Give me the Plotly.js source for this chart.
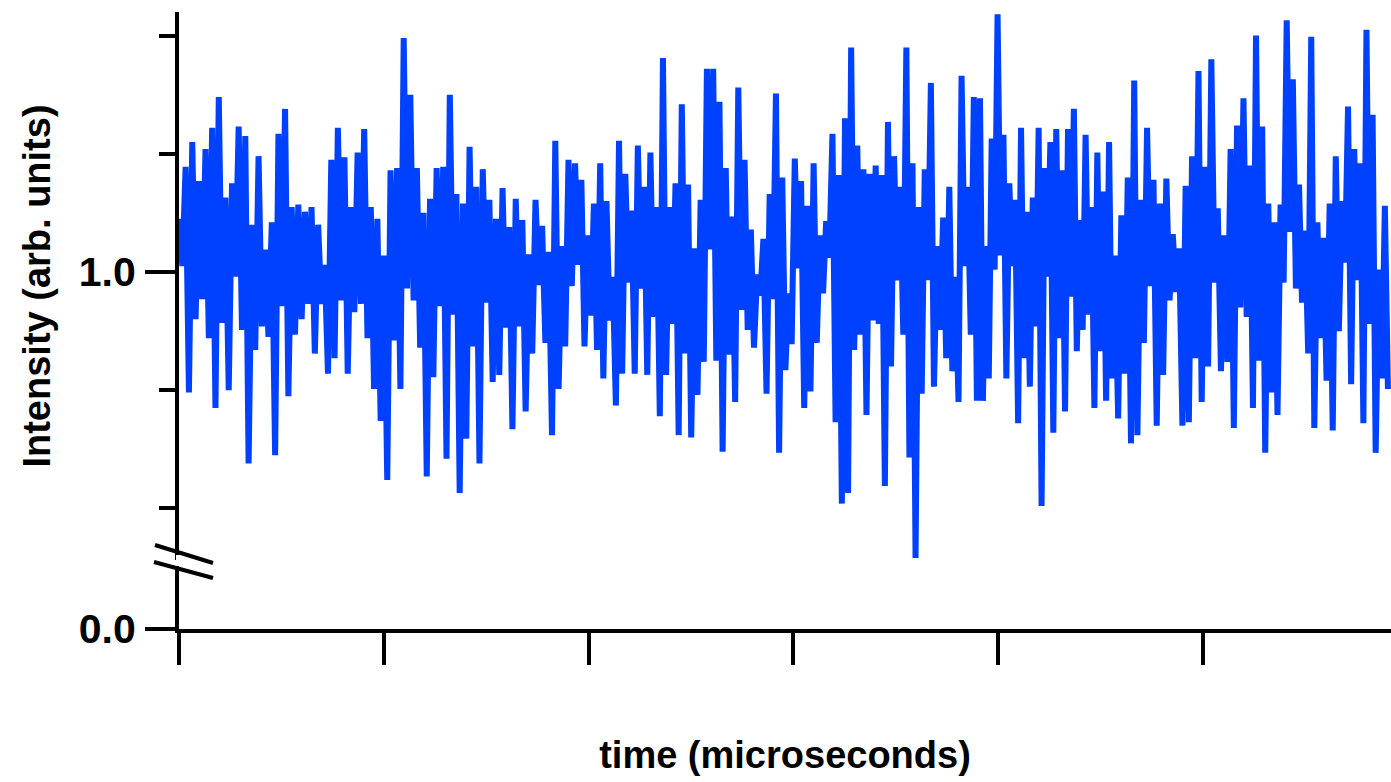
<!DOCTYPE html>
<html><head><meta charset="utf-8">
<script src="https://cdn.plot.ly/plotly-3.0.1.min.js"></script>
<style>html,body{margin:0;padding:0;background:#fff}#chart{width:1391px;height:782px}</style>
</head><body><div id="chart"></div>
<script>
// segment boundaries on the time axis (same units as the unlabeled x ticks)
const segmentBounds = [0, 0.615, 1.274, 1.934, 2.593, 3.252, 3.911, 4.570, 5.229, 5.918];

// intensity samples (arb. units)
const seg1 = [1.045,1.005,1.089,0.898,1.110,0.960,1.077,0.977,1.104,0.944,1.122,0.885,1.148,0.957,1.063,0.900,1.075,0.996,1.123,0.951,1.115,0.838,1.040,0.934,1.098,0.954,1.019,0.945,1.042,0.845,1.117,0.971,1.138,0.895,1.055,0.947,1.057,0.960];
const seg2 = [1.051,0.973,1.055,0.931,1.040,0.973,1.006,0.914,1.095,0.927,1.122,0.976,1.097,0.914,1.055,0.966,1.101,0.973,1.121,0.944,1.055,0.901,1.045,0.874,1.014,0.824,1.086,0.942,1.088,0.901,1.198,0.986,1.150,0.976,1.088,0.936,1.050,0.827,1.062,0.911,1.088];
const seg3 = [0.971,1.089,0.842,1.150,0.964,1.066,0.813,1.058,0.859,1.106,0.937,1.072,0.838,1.087,0.974,1.061,0.907,1.045,0.913,1.071,0.953,1.038,0.867,1.062,0.954,1.044,0.882,1.015,0.931,1.061,0.989,1.039,0.940,1.017,0.862,1.111,0.901,1.022,0.937,1.095,0.988];
const seg4 = [1.092,1.006,1.078,0.937,1.031,0.963,1.058,0.934,1.092,0.910,1.060,0.959,0.996,0.887,1.111,0.914,1.083,0.991,1.052,0.914,1.107,0.986,1.072,0.913,1.101,0.962,1.055,0.878,1.181,0.913,1.055,0.956,1.075,0.862,1.142,0.931,1.074,0.860,1.020,0.896,1.061,0.924,1.172];
const seg5 = [1.019,1.172,0.925,1.144,0.848,1.088,0.930,1.047,0.890,1.156,0.968,1.095,0.951,1.036,0.936,0.998,0.980,1.028,0.897,1.066,0.977,1.151,0.847,1.080,0.917,0.982,0.939,1.096,1.003,1.077,0.885,1.056,0.899,1.092,0.940,1.031,0.982,1.043,1.012,1.117,0.873,1.082,0.804];
const seg6 = [1.130,0.813,1.190,0.934,1.107,0.947,1.087,0.879,1.083,0.959,1.090,0.956,1.082,0.819,1.127,0.920,1.098,0.993,1.072,0.947,1.190,0.843,1.092,0.758,1.055,0.897,1.087,0.993,1.160,0.903,1.022,0.951,1.046,0.927,1.072,0.916,0.996,0.890,1.166,1.005,1.072,0.947,1.148,0.891];
const seg7 = [1.147,0.891,1.022,0.910,1.113,1.002,1.218,1.014,1.116,0.910,1.075,1.005,1.061,0.872,1.122,0.927,1.051,0.903,1.063,0.954,1.122,0.802,1.088,0.996,1.110,0.864,1.121,0.944,1.086,0.882,1.121,0.979,1.138,0.933,1.044,0.951,1.116,0.964,1.055,0.885,1.101,0.933,1.068,0.891,1.110,0.910];
const seg8 = [1.014,0.876,1.048,0.914,1.080,0.855,1.162,0.862,1.061,0.940,1.122,0.988,1.078,0.870,1.058,0.913,1.079,0.976,1.032,0.983,1.020,0.870,1.073,0.873,1.098,0.927,1.170,0.890,1.089,0.920,1.180,0.991,1.054,0.916,1.031,0.924,1.104,0.868,1.124,0.970,1.147,0.962];
const seg9 = [1.090,0.885,1.200,0.925,1.123,0.847,1.058,0.898,1.042,0.879,1.057,0.991,1.213,1.034,1.163,0.986,1.074,0.974,1.035,0.931,1.199,0.868,1.042,0.944,1.029,0.908,1.058,0.866,1.098,0.950,1.060,1.008,1.140,0.905,1.104,0.993,1.092,0.872,1.205,0.956,1.133,0.847,1.002,0.910,1.056,0.901];
const segments = [seg1, seg2, seg3, seg4, seg5, seg6, seg7, seg8, seg9];

const yMajorTicks = [1.0];
const yMajorLabels = ['1.0'];
const yMinorTicks = [0.8, 0.9, 1.1, 1.2];
const yLowTicks = [0.0];
const yLowLabels = ['0.0'];

const xTitle = 'time (microseconds)';
const yTitle = 'Intensity (arb. units)';

const time = [], intensity = [];
segments.forEach((seg, k) => {
  const a = segmentBounds[k], b = segmentBounds[k + 1];
  seg.forEach((v, j) => { time.push(a + j * (b - a) / seg.length); intensity.push(v); });
});

const font = {family: 'Liberation Sans, Arial, sans-serif', color: '#000', weight: 'bold'};
const L = 179, T = 12, W = 1212, H = 617;
const px = x => (x - L) / W, py = y => (782 - 153 - y) / H;

const data = [
  {x: time, y: intensity, type: 'scatter', mode: 'lines',
   line: {color: '#0040ff', width: 6}, xaxis: 'x', yaxis: 'y', hoverinfo: 'skip'},
  // carrier so the lower (broken-off) y axis with the 0.0 tick is drawn
  {x: [0], y: [0], type: 'scatter', mode: 'lines', line: {width: 0},
   xaxis: 'x', yaxis: 'y2', hoverinfo: 'skip'}
];

const layout = {
  width: 1391, height: 782,
  margin: {l: L, r: 0, t: T, b: 153},
  paper_bgcolor: '#fff', plot_bgcolor: '#fff',
  showlegend: false,
  xaxis: {
    range: [0, 5.918], anchor: 'y2', dtick: 1, tick0: 0, tickmode: 'linear',
    showticklabels: false, ticks: 'outside', ticklen: 32, tickwidth: 4, tickcolor: '#000',
    showline: true, linewidth: 4, linecolor: '#000', showgrid: false, zeroline: false,
    layer: 'below traces',
    title: {text: xTitle, font: Object.assign({size: 38}, font), standoff: 78}
  },
  yaxis: {
    domain: [0.1118, 1], range: [0.7563, 1.22], anchor: 'x',
    tickmode: 'array', tickvals: yMajorTicks, ticktext: yMajorLabels,
    ticks: 'outside', ticklen: 30, tickwidth: 4, tickcolor: '#000',
    tickfont: Object.assign({size: 41}, font), ticklabelstandoff: 1,
    minor: {tickmode: 'array', tickvals: yMinorTicks, ticks: 'outside', ticklen: 16, tickwidth: 4, tickcolor: '#000', showgrid: false},
    showline: true, linewidth: 4, linecolor: '#000', showgrid: false, zeroline: false,
    layer: 'below traces',
    title: {text: yTitle, font: Object.assign({size: 38}, font), standoff: 17}
  },
  yaxis2: {
    domain: [0, 0.1021], range: [0, 0.1], anchor: 'x',
    tickmode: 'array', tickvals: yLowTicks, ticktext: yLowLabels,
    ticks: 'outside', ticklen: 30, tickwidth: 4, tickcolor: '#000',
    tickfont: Object.assign({size: 41}, font), ticklabelstandoff: 1,
    showline: true, linewidth: 4, linecolor: '#000', showgrid: false, zeroline: false,
    layer: 'below traces'
  },
  shapes: [
    {type: 'rect', xref: 'paper', yref: 'paper', x0: px(176), x1: px(182), y0: py(566), y1: py(555),
     fillcolor: '#fff', line: {width: 0}, layer: 'above'},
    {type: 'line', xref: 'paper', yref: 'paper', x0: px(155), y0: py(545), x1: px(213), y1: py(563),
     line: {color: '#000', width: 4}, layer: 'above'},
    {type: 'line', xref: 'paper', yref: 'paper', x0: px(154), y0: py(562), x1: px(213), y1: py(578),
     line: {color: '#000', width: 4}, layer: 'above'}
  ]
};

Plotly.newPlot('chart', data, layout, {staticPlot: true, displayModeBar: false});
</script>
</body></html>
